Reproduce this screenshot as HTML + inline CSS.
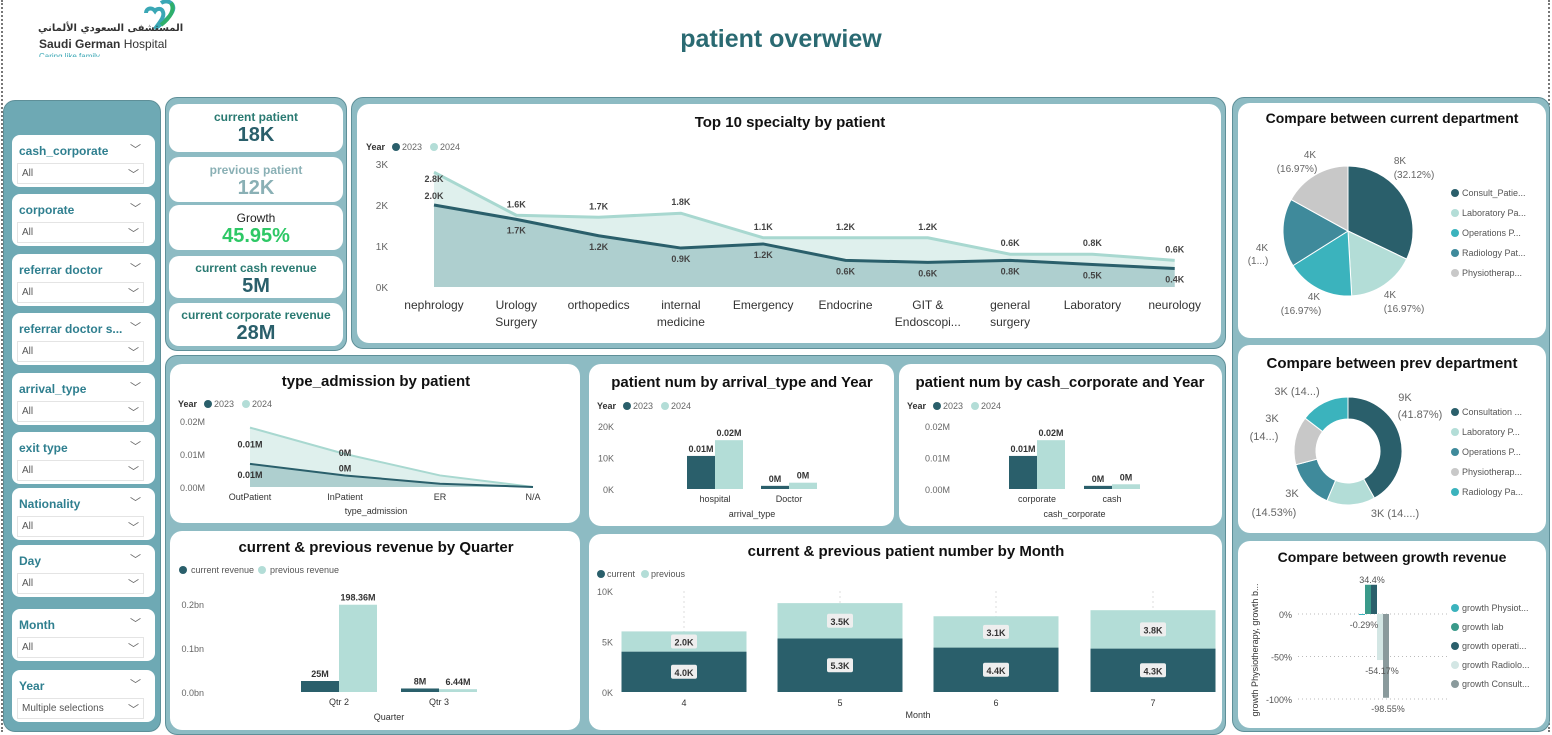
<!DOCTYPE html>
<html><head><meta charset="utf-8"><style>
*{box-sizing:border-box;margin:0;padding:0}
body{width:1552px;height:732px;background:#fff;position:relative;overflow:hidden;font-family:"Liberation Sans","Noto Sans CJK SC",sans-serif}
.abs{position:absolute}
.panel{position:absolute;border-radius:12px;border:1px solid #5e8f98}
.card{position:absolute;background:#fff;border-radius:12px}
.slicer{position:absolute;left:12px;width:143px;background:#fff;border-radius:8px}
.slicer .lbl{position:absolute;left:7px;top:9px;font-size:12px;font-weight:bold;color:#2f7f8f}
.slicer .chev{position:absolute;right:14px;top:6px;font-size:11px;color:#666}
.slicer .dd{position:absolute;left:5px;right:11px;top:28px;height:21px;border:1px solid #e4e4e4;font-size:10px;color:#555;padding:4px 0 0 4px}
.slicer .dd span{position:absolute;right:4px;top:2px;font-size:11px;color:#666}
.kpi{position:absolute;left:169px;width:174px;background:#fff;border-radius:10px;text-align:center}
.kpi .t{font-size:12px;font-weight:bold;margin-top:6px}
.kpi .v{font-size:20px;font-weight:bold;line-height:22px}
svg text{font-family:"Liberation Sans",sans-serif}
</style></head><body>
<div class="abs" style="left:1px;top:0;width:0;height:732px;border-left:2px dotted #777"></div>
<div class="abs" style="left:1548px;top:0;width:0;height:732px;border-left:2px dotted #777"></div>

<div class="abs" style="left:38px;top:0;width:140px;height:58px">
  <svg width="140" height="58"><path d="M123 3c6-4 14 0 12 7-2 7-12 14-18 19 4-6 10-12 8-17-1-4-6-4-8-1-3-4-9-3-9 2" fill="none" stroke="#3aa7b5" stroke-width="4"/><path d="M133 3c4 6 0 14-10 22" fill="none" stroke="#2faf6a" stroke-width="4"/></svg>
  <div class="abs" style="left:0;top:23px;width:132px;text-align:right;white-space:nowrap;font-size:10px;line-height:12px;font-weight:bold;color:#333;font-family:'DejaVu Sans',sans-serif">المستشفى السعودي الألماني</div>
  <div class="abs" style="left:1px;top:37px;white-space:nowrap;font-size:12px;line-height:14px;color:#333"><b>Saudi German</b> Hospital</div>
  <div class="abs" style="left:1px;top:52px;font-size:8px;color:#3aa7b5;height:5px;overflow:hidden;white-space:nowrap">Caring like family</div>
</div>
<div class="abs" style="left:0;width:1562px;top:25px;text-align:center;font-size:25px;font-weight:bold;color:#2a6a72">patient overwiew</div>

<div class="panel" style="left:3px;top:100px;width:158px;height:632px;background:#6ea9b4"></div>
<div class="slicer" style="top:135px;height:52px"><div class="lbl">cash_corporate</div><div class="chev">﹀</div><div class="dd">All<span>﹀</span></div></div>
<div class="slicer" style="top:194px;height:52px"><div class="lbl">corporate</div><div class="chev">﹀</div><div class="dd">All<span>﹀</span></div></div>
<div class="slicer" style="top:254px;height:52px"><div class="lbl">referrar doctor</div><div class="chev">﹀</div><div class="dd">All<span>﹀</span></div></div>
<div class="slicer" style="top:313px;height:52px"><div class="lbl">referrar doctor s...</div><div class="chev">﹀</div><div class="dd">All<span>﹀</span></div></div>
<div class="slicer" style="top:373px;height:52px"><div class="lbl">arrival_type</div><div class="chev">﹀</div><div class="dd">All<span>﹀</span></div></div>
<div class="slicer" style="top:432px;height:52px"><div class="lbl">exit type</div><div class="chev">﹀</div><div class="dd">All<span>﹀</span></div></div>
<div class="slicer" style="top:488px;height:52px"><div class="lbl">Nationality</div><div class="chev">﹀</div><div class="dd">All<span>﹀</span></div></div>
<div class="slicer" style="top:545px;height:52px"><div class="lbl">Day</div><div class="chev">﹀</div><div class="dd">All<span>﹀</span></div></div>
<div class="slicer" style="top:609px;height:52px"><div class="lbl">Month</div><div class="chev">﹀</div><div class="dd">All<span>﹀</span></div></div>
<div class="slicer" style="top:670px;height:52px"><div class="lbl">Year</div><div class="chev">﹀</div><div class="dd">Multiple selections<span>﹀</span></div></div>

<div class="panel" style="left:165px;top:97px;width:182px;height:254px;background:#8dbbc3"></div>
<div class="kpi" style="top:104px;height:48px"><div class="t" style="color:#2a7a72">current patient</div><div class="v" style="color:#2a5f6b">18K</div></div>
<div class="kpi" style="top:157px;height:45px"><div class="t" style="color:#8ab0b5">previous patient</div><div class="v" style="color:#8ab0b5">12K</div></div>
<div class="kpi" style="top:205px;height:45px"><div class="t" style="color:#222;font-weight:normal">Growth</div><div class="v" style="color:#2ec866">45.95%</div></div>
<div class="kpi" style="top:256px;height:42px"><div class="t" style="color:#2a7a72;margin-top:5px">current cash revenue</div><div class="v" style="color:#2a5f6b">5M</div></div>
<div class="kpi" style="top:303px;height:43px"><div class="t" style="color:#2a7a72;margin-top:5px">current corporate revenue</div><div class="v" style="color:#2a5f6b">28M</div></div>

<div class="panel" style="left:351px;top:97px;width:875px;height:252px;background:#8dbbc3"></div>
<div class="card" style="left:357px;top:104px;width:864px;height:239px"></div>

<div class="panel" style="left:165px;top:355px;width:1061px;height:380px;background:#8dbbc3"></div>
<div class="card" style="left:170px;top:364px;width:410px;height:159px"></div>
<div class="card" style="left:589px;top:364px;width:305px;height:162px"></div>
<div class="card" style="left:899px;top:364px;width:323px;height:162px"></div>
<div class="card" style="left:170px;top:531px;width:410px;height:199px"></div>
<div class="card" style="left:589px;top:534px;width:633px;height:196px"></div>

<div class="panel" style="left:1232px;top:97px;width:318px;height:635px;background:#8dbbc3"></div>
<div class="card" style="left:1238px;top:103px;width:308px;height:235px"></div>
<div class="card" style="left:1238px;top:345px;width:308px;height:188px"></div>
<div class="card" style="left:1238px;top:541px;width:308px;height:187px"></div>

<svg id="charts" class="abs" style="left:0;top:0" width="1552" height="732"></svg>

<script>
const specCats = ["nephrology","Urology|Surgery","orthopedics","internal|medicine","Emergency","Endocrine","GIT &|Endoscopi...","general|surgery","Laboratory","neurology"];
const spec2023 = [2.0,1.65,1.25,0.95,1.05,0.65,0.6,0.65,0.55,0.45];
const spec2024 = [2.8,1.75,1.7,1.8,1.2,1.2,1.2,0.8,0.8,0.65];
const spec2023Lbl = ["2.0K","1.7K","1.2K","0.9K","1.2K","0.6K","0.6K","0.8K","0.5K","0.4K"];
const spec2024Lbl = ["2.8K","1.6K","1.7K","1.8K","1.1K","1.2K","1.2K","0.6K","0.8K","0.6K"];
const specTicks = [0,1,2,3];
const admCats = ["OutPatient","InPatient","ER","N/A"];
const adm2023 = [0.0070,0.0035,0.0010,0];
const adm2024 = [0.0180,0.0100,0.0035,0];
const admTicks = ["0.00M","0.01M","0.02M"];
const arrCats = ["hospital","Doctor"];
const arr2023 = [10.5,1.0];
const arr2024 = [15.5,2.0];
const arrLbl2023 = ["0.01M","0M"], arrLbl2024 = ["0.02M","0M"];
const arrTicks = ["0K","10K","20K"];
const ccCats = ["corporate","cash"];
const cc2023 = [0.0105,0.001];
const cc2024 = [0.0155,0.0015];
const ccLbl2023 = ["0.01M","0M"], ccLbl2024 = ["0.02M","0M"];
const ccTicks = ["0.00M","0.01M","0.02M"];
const qCats = ["Qtr 2","Qtr 3"];
const qCurrent = [25,8];
const qPrevious = [198.36,6.44];
const qLblCur = ["25M","8M"], qLblPrev = ["198.36M","6.44M"];
const qTicks = ["0.0bn","0.1bn","0.2bn"];
const mCats = ["4","5","6","7"];
const mCurrent = [4.0,5.3,4.4,4.3];
const mPrevious = [2.0,3.5,3.1,3.8];
const mTicks = ["0K","5K","10K"];
const curDeptNames = ["Consult_Patie...","Laboratory Pa...","Operations P...","Radiology Pat...","Physiotherap..."];
const curDeptVals = [32.12,16.97,16.97,16.97,16.97];
const prevDeptNames = ["Consultation ...","Laboratory P...","Operations P...","Physiotherap...","Radiology Pa..."];
const prevDeptVals = [41.87,14.5,14.53,14.5,14.6];
const grNames = ["growth Physiot...","growth lab","growth operati...","growth Radiolo...","growth Consult..."];
const grVals = [-0.29,34.4,34.4,-54.17,-98.55];

const C1="#2a5f6b", C2="#b3ddd7";
const svg=document.getElementById('charts');
const NS="http://www.w3.org/2000/svg";
function mk(tag,attrs,name,txt){const e=document.createElementNS(NS,tag);for(const k in attrs)e.setAttribute(k,attrs[k]);


if(txt!==undefined)e.textContent=txt;svg.appendChild(e);return e;}
function T(x,y,s,name,o){o=o||{};return mk('text',Object.assign({x:x,y:y,'font-size':o.fs||11,fill:o.fill||'#555','text-anchor':o.a||'middle','font-weight':o.fw||'normal'},o.extra||{}),name,s);}
function title(x,y,s,name,fs){T(x,y,s,name,{fs:fs||15,fill:'#111',fw:'bold'});}
function legend(x,y,items,name){let cx=x;T(cx,y,'Year','legend-title',{a:'start',fs:9,fill:'#333',fw:'bold'});cx+=items[0][2]||26;
items.forEach(it=>{mk('circle',{cx:cx+4,cy:y-3,r:4,fill:it[1]},'legend-dot-'+it[0]);T(cx+10,y,it[0],'legend-entry-'+it[0],{a:'start',fs:9,fill:'#666'});cx+=it[0].length*5.5+16;});}

title(790,127,'Top 10 specialty by patient','top-specialty-title');
legend(366,150,[['2023',C1],['2024',C2]],'top-legend');
(function(){const x0=434,dx=82.3,y0=287,k=41;const X=i=>x0+i*dx,Y=v=>y0-v*k;
specTicks.forEach(t=>T(388,Y(t)+4,t+'K','top-y-tick',{fs:10,a:'end',fill:'#666'}));
let p24='M'+X(0)+','+y0+spec2024.map((v,i)=>' L'+X(i)+','+Y(v)).join('')+' L'+X(9)+','+y0+'Z';
mk('path',{d:p24,fill:'#dff0ed'},'area-2024');
let p23='M'+X(0)+','+y0+spec2023.map((v,i)=>' L'+X(i)+','+Y(v)).join('')+' L'+X(9)+','+y0+'Z';
mk('path',{d:p23,fill:'#aecfcf'},'area-2023');
mk('polyline',{points:spec2024.map((v,i)=>X(i)+','+Y(v)).join(' '),fill:'none',stroke:'#a8d8d0','stroke-width':3},'line-2024');
mk('polyline',{points:spec2023.map((v,i)=>X(i)+','+Y(v)).join(' '),fill:'none',stroke:C1,'stroke-width':3},'line-2023');
spec2024.forEach((v,i)=>T(X(i),Y(v)-(i==0?-10:8),spec2024Lbl[i],'label-2024',{fs:9,fill:'#444',fw:'bold'}));
spec2023.forEach((v,i)=>T(X(i),i==0?Y(v)-6:Y(v)+14,spec2023Lbl[i],'label-2023',{fs:9,fill:'#444',fw:'bold'}));
specCats.forEach((c,i)=>c.split('|').forEach((l,j)=>T(X(i),309+j*17,l,'x-label-'+i,{fs:12,fill:'#333'})));})();

title(376,386,'type_admission by patient','type-admission-title');
legend(178,407,[['2023',C1],['2024',C2]],'adm-legend');
(function(){const xs=[250,345,440,533],y0=487,k=66/0.02;const Y=v=>y0-v*k;
admTicks.forEach((t,i)=>T(205,Y(i*0.01)+4,t,'adm-y-tick',{fs:9,a:'end',fill:'#666'}));
mk('path',{d:'M250,'+y0+adm2024.map((v,i)=>' L'+xs[i]+','+Y(v)).join('')+' L533,'+y0+'Z',fill:'#dff0ed'},'adm-area-2024');
mk('path',{d:'M250,'+y0+adm2023.map((v,i)=>' L'+xs[i]+','+Y(v)).join('')+' L533,'+y0+'Z',fill:'#aecfcf'},'adm-area-2023');
mk('polyline',{points:adm2024.map((v,i)=>xs[i]+','+Y(v)).join(' '),fill:'none',stroke:'#a8d8d0','stroke-width':2},'adm-line-2024');
mk('polyline',{points:adm2023.map((v,i)=>xs[i]+','+Y(v)).join(' '),fill:'none',stroke:C1,'stroke-width':2},'adm-line-2023');
T(250,Y(adm2024[0])+20,'0.01M','adm-label',{fs:9,fill:'#333',fw:'bold'});
T(250,Y(adm2023[0])+14,'0.01M','adm-label',{fs:9,fill:'#333',fw:'bold'});
T(345,Y(adm2024[1])+2,'0M','adm-label',{fs:9,fill:'#333',fw:'bold'});
T(345,Y(adm2023[1])-4,'0M','adm-label',{fs:9,fill:'#333',fw:'bold'});
admCats.forEach((c,i)=>T(xs[i],500,c,'adm-x-label',{fs:9,fill:'#333'}));
T(376,514,'type_admission','adm-x-title',{fs:9,fill:'#333'});})();

function barChart(cx0,xs,ticks,maxv,d1,d2,l1,l2,cats,xtitle,nm,y0,top,bw){const k=(y0-top)/maxv;const Y=v=>y0-v*k;
ticks.forEach((t,i)=>T(cx0,Y(i*maxv/(ticks.length-1))+4,t,nm+'-y-tick',{fs:9,a:'end',fill:'#666'}));
xs.forEach((x,i)=>{mk('rect',{x:x-bw,y:Y(d1[i]),width:bw,height:d1[i]*k,fill:C1},nm+'-bar-2023');
mk('rect',{x:x,y:Y(d2[i]),width:bw,height:d2[i]*k,fill:C2},nm+'-bar-2024');
T(x-bw/2,Y(d1[i])-4,l1[i],nm+'-label',{fs:9,fill:'#333',fw:'bold'});
T(x+bw/2,Y(d2[i])-4,l2[i],nm+'-label',{fs:9,fill:'#333',fw:'bold'});
T(x,y0+13,cats[i],nm+'-x-label',{fs:9,fill:'#333'});});
T((xs[0]+xs[xs.length-1])/2,y0+28,xtitle,nm+'-x-title',{fs:9,fill:'#333'});}
title(742,387,'patient num by arrival_type and Year','arrival-title');
legend(597,409,[['2023',C1],['2024',C2]],'arr-legend');
barChart(614,[715,789],arrTicks,20,arr2023,arr2024,arrLbl2023,arrLbl2024,arrCats,'arrival_type','arr',489,426,28);
title(1060,387,'patient num by cash_corporate and Year','cash-corp-title');
legend(907,409,[['2023',C1],['2024',C2]],'cc-legend');
barChart(950,[1037,1112],ccTicks,0.02,cc2023,cc2024,ccLbl2023,ccLbl2024,ccCats,'cash_corporate','cc',489,426,28);

title(376,552,'current & previous revenue by Quarter','quarter-title');
(function(){mk('circle',{cx:183,cy:570,r:4,fill:C1},'q-legend-dot');T(191,573,'current revenue','q-legend-entry',{a:'start',fs:9,fill:'#555'});
mk('circle',{cx:262,cy:570,r:4,fill:C2},'q-legend-dot');T(270,573,'previous revenue','q-legend-entry',{a:'start',fs:9,fill:'#555'});})();
barChart(204,[339,439],qTicks,200,qCurrent,qPrevious,qLblCur,qLblPrev,qCats,'Quarter','q',692,604,38);

title(906,556,'current & previous patient number by Month','month-title');
(function(){mk('circle',{cx:601,cy:574,r:4,fill:C1},'m-legend-dot');T(607,577,'current','m-legend-entry',{a:'start',fs:9,fill:'#555'});
mk('circle',{cx:645,cy:574,r:4,fill:C2},'m-legend-dot');T(651,577,'previous','m-legend-entry',{a:'start',fs:9,fill:'#555'});
const xs=[684,840,996,1153],y0=692,k=101/10,Y=v=>y0-v*k,bw=125;
mTicks.forEach((t,i)=>T(613,Y(i*5)+4,t,'m-y-tick',{fs:9,a:'end',fill:'#666'}));
xs.forEach((x,i)=>{mk('line',{x1:x,x2:x,y1:591,y2:692,stroke:'#ddd','stroke-dasharray':'2,3'},'m-grid');
mk('rect',{x:x-bw/2,y:Y(mCurrent[i]),width:bw,height:mCurrent[i]*k,fill:C1},'m-bar-current');
mk('rect',{x:x-bw/2,y:Y(mCurrent[i]+mPrevious[i]),width:bw,height:mPrevious[i]*k,fill:C2},'m-bar-previous');
[[mCurrent[i]/2,mCurrent[i]],[mCurrent[i]+mPrevious[i]/2,mPrevious[i]]].forEach(p=>{mk('rect',{x:x-13,y:Y(p[0])-7,width:26,height:14,rx:2,fill:'#eee'},'m-label-box');
T(x,Y(p[0])+4,p[1].toFixed(1)+'K','m-label',{fs:9,fill:'#333',fw:'bold'});});
T(x,y0+14,mCats[i],'m-x-label',{fs:9,fill:'#333'});});
T(918,718,'Month','m-x-title',{fs:9,fill:'#333'});})();

function pie(cx,cy,r,ri,vals,cols,nm){let a=-Math.PI/2;const tot=vals.reduce((s,v)=>s+v,0);
vals.forEach((v,i)=>{const b=a+v/tot*2*Math.PI;const p=(ang,rr)=>(cx+rr*Math.cos(ang))+','+(cy+rr*Math.sin(ang));const lg=(b-a)>Math.PI?1:0;
let d='M'+p(a,r)+' A'+r+','+r+' 0 '+lg+' 1 '+p(b,r);
d+=ri?' L'+p(b,ri)+' A'+ri+','+ri+' 0 '+lg+' 0 '+p(a,ri)+'Z':' L'+cx+','+cy+'Z';
mk('path',{d:d,fill:cols[i],stroke:'#fff','stroke-width':1},nm+'-slice-'+i);a=b;});}
title(1392,123,'Compare between current department','cur-dept-title',14);
const curCols=[C1,C2,"#3bb3bd","#3f8a9b","#c8c8c8"];
pie(1348,231,65,0,curDeptVals,curCols,'cur-dept');
curDeptNames.forEach((n,i)=>{mk('circle',{cx:1455,cy:193+i*20,r:4,fill:curCols[i]},'cur-legend-dot');T(1462,196+i*20,n,'cur-legend-entry',{a:'start',fs:9,fill:'#555'});});
[["8K",1400,164],["(32.12%)",1414,178],["4K",1310,158],["(16.97%)",1297,172],["4K",1262,251],["(1...)",1258,264],["4K",1314,300],["(16.97%)",1301,314],["4K",1390,298],["(16.97%)",1404,312]].forEach(l=>T(l[1],l[2],l[0],'cur-slice-label',{fs:10,fill:'#666'}));
title(1392,368,'Compare between prev department','prev-dept-title',15);
const prevCols=[C1,C2,"#3f8a9b","#c8c8c8","#3bb3bd"];
pie(1348,451,54,32,prevDeptVals,prevCols,'prev-dept');
prevDeptNames.forEach((n,i)=>{mk('circle',{cx:1455,cy:412+i*20,r:4,fill:prevCols[i]},'prev-legend-dot');T(1462,415+i*20,n,'prev-legend-entry',{a:'start',fs:9,fill:'#555'});});
[["9K",1405,401],["(41.87%)",1420,418],["3K (14...)",1297,395],["3K",1272,422],["(14...)",1264,440],["3K",1292,497],["(14.53%)",1274,516],["3K (14....)",1395,517]].forEach(l=>T(l[1],l[2],l[0],'prev-slice-label',{fs:11,fill:'#666'}));

title(1392,562,'Compare between growth revenue','growth-title',14);
(function(){const y0=614,k=0.85,Y=v=>y0-v*k;
[0,-50,-100].forEach(t=>{T(1292,Y(t)+4,t+'%','gr-y-tick',{fs:9,a:'end',fill:'#555'});mk('line',{x1:1298,x2:1450,y1:Y(t),y2:Y(t),stroke:'#bbb','stroke-dasharray':'1,3'},'gr-grid');});
mk('text',{x:1258,y:650,'font-size':9,fill:'#333','text-anchor':'middle',transform:'rotate(-90 1258 650)'},'gr-y-title','growth Physiotherapy, growth b...');
const cols=["#3bb3bd","#3a9a8a",C1,"#d3e6e4","#8a9a9c"];
grVals.forEach((v,i)=>{const x=1359+i*6;mk('rect',{x:x,y:Math.min(Y(v),y0),width:6,height:Math.max(Math.abs(v)*k,1),fill:cols[i]},'gr-bar-'+i);});
T(1372,583,'34.4%','gr-label',{fs:9,fill:'#555'});T(1364,628,'-0.29%','gr-label',{fs:9,fill:'#555'});
T(1382,674,'-54.17%','gr-label',{fs:9,fill:'#555'});T(1388,712,'-98.55%','gr-label',{fs:9,fill:'#555'});
grNames.forEach((n,i)=>{mk('circle',{cx:1455,cy:608+i*19,r:4,fill:cols[i]},'gr-legend-dot');T(1462,611+i*19,n,'gr-legend-entry',{a:'start',fs:9,fill:'#555'});});})();
</script>
</body></html>
